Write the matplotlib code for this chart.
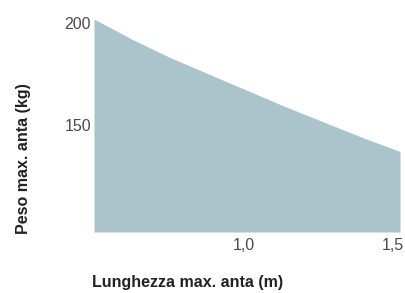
import matplotlib.pyplot as plt
from matplotlib.transforms import ScaledTranslation

plt.rcParams['font.family'] = ['Liberation Sans', 'DejaVu Sans']

# Max leaf weight vs max leaf length
lunghezza = [0.5, 0.625, 0.75, 0.875, 1.0, 1.125, 1.25, 1.375, 1.5]
peso = [202, 192, 183, 175, 167, 159, 151.5, 144, 137]
x_ticks = [1.0, 1.5]
x_labels = ['1,0', '1,5']
y_ticks = [150, 200]
y_labels = ['150', '200']

fig = plt.figure(figsize=(4.05, 2.93), dpi=100)
ax = fig.add_axes([94 / 405, 61 / 293, 306 / 405, 213 / 293])

ax.fill_between(lunghezza, peso, 97.5, color='#abc3ca', linewidth=0)
ax.set_xlim(0.5, 1.5)
ax.set_ylim(97.5, 202)

ax.set_xticks(x_ticks)
ax.set_xticklabels(x_labels)
ax.set_yticks(y_ticks)
ax.set_yticklabels(y_labels)
ax.tick_params(length=0, labelsize=11.5, labelcolor='#4a4a4a')
ax.tick_params(axis='x', pad=4)
ax.tick_params(axis='y', pad=2)
for s in ax.spines.values():
    s.set_visible(False)

# nudge x labels left so the last one stays inside the figure
for lab, dx in zip(ax.get_xticklabels(), [-3, -7]):
    lab.set_transform(lab.get_transform() + ScaledTranslation(dx / 100, 0, fig.dpi_scale_trans))

fig.text(188 / 405, 1 - 283 / 293, 'Lunghezza max. anta (m)', ha='center', va='center',
         fontsize=11.5, fontweight='bold', color='#222222')
fig.text(24 / 405, 1 - 159 / 293, 'Peso max. anta (kg)', ha='center', va='center',
         rotation=90, fontsize=11.5, fontweight='bold', color='#222222')

fig.savefig('out.png', dpi=100)
